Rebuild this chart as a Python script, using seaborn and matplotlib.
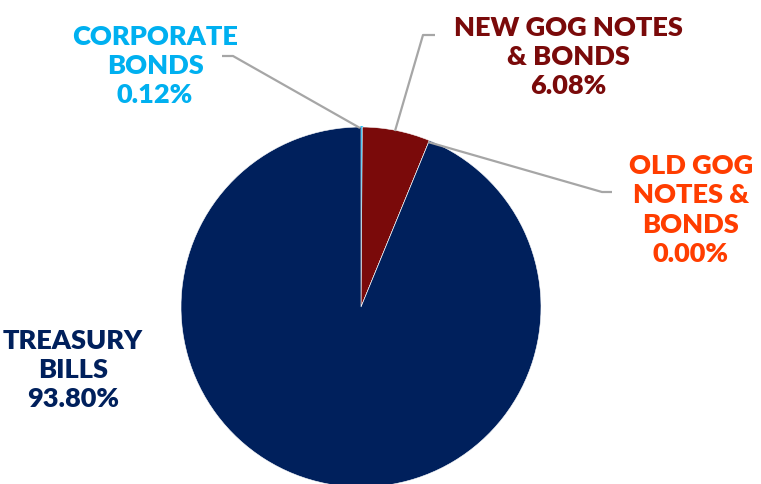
import matplotlib
matplotlib.use("Agg")
import matplotlib.pyplot as plt
import seaborn as sns

sns.set_theme(style="white")
plt.rcParams['font.family'] = ['Lato', 'DejaVu Sans']

categories = ["CORPORATE\nBONDS", "NEW GOG NOTES\n& BONDS", "OLD GOG\nNOTES &\nBONDS", "TREASURY\nBILLS"]
values = [0.12, 6.08, 0.00, 93.80]
pct_labels = ["0.12%", "6.08%", "0.00%", "93.80%"]
colors = ["#00B0F0", "#7A0A0A", "#FF3D00", "#00205C"]
text_colors = ["#00B0F0", "#7A0A0A", "#FF3D00", "#00205C"]

W, H = 761, 485
fig = plt.figure(figsize=(W / 100, H / 100), dpi=100)
ax = fig.add_axes([0, 0, 1, 1])
ax.set_xlim(0, W)
ax.set_ylim(0, H)
ax.set_aspect('equal')
ax.axis('off')

cx, cy, r = 361, H - 308, 180
wedges, _ = ax.pie(values, colors=colors, startangle=90, counterclock=False,
                   center=(cx, cy), radius=r,
                   wedgeprops=dict(edgecolor="white", linewidth=0.4))
wedges[0].set_edgecolor(colors[0])
wedges[0].set_linewidth(1.2)
ax.set_xlim(0, W)
ax.set_ylim(0, H)

# label positions (pixel coords, y from top)
label_pos = [(155, 66), (568, 57), (691, 210), (73, 370)]
for lab, pct, (x, y), c in zip(categories, pct_labels, label_pos, text_colors):
    ax.text(x, H - y, lab + "\n" + pct, ha="center", va="center", color=c,
            fontsize=19.5, fontweight="heavy", linespacing=1.26)

leaders = [
    [(222, 57), (233, 57), (360, 129)],
    [(435, 36), (423, 36), (395, 132)],
    [(428, 143), (602, 193), (612, 193)],
]
for pts in leaders:
    xs = [p[0] for p in pts]
    ys = [H - p[1] for p in pts]
    ax.plot(xs, ys, color="#A6A6A6", linewidth=1.6, solid_capstyle="butt")

fig.savefig("out.png", dpi=100)
